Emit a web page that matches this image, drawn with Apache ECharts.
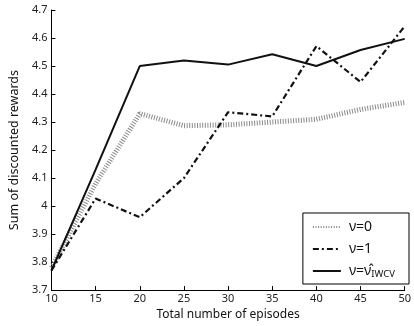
<!DOCTYPE html>
<html><head><meta charset="utf-8">
<script src="https://cdn.jsdelivr.net/npm/echarts@6/dist/echarts.min.js"></script>
<style>html,body{margin:0;padding:0;background:#fff}#c{width:414px;height:326px}</style>
</head><body><div id="c"></div>
<script>
const episodes = [10, 15, 20, 25, 30, 35, 40, 45, 50];
const nu0 = [3.78, 4.08, 4.33, 4.287, 4.29, 4.30, 4.31, 4.345, 4.37];
const nu1 = [3.77, 4.027, 3.96, 4.10, 4.335, 4.32, 4.571, 4.443, 4.642];
const nuIWCV = [3.77, 4.13, 4.50, 4.52, 4.505, 4.542, 4.50, 4.557, 4.597];
const seriesNames = ['ν=0', 'ν=1', 'ν=ν̂IWCV'];
const xTicks = {min: 10, max: 50, interval: 5};
const yTicks = {min: 3.7, max: 4.7, interval: 0.1};

const pairs = a => episodes.map((x, i) => [x, a[i]]);
const font = 'Noto Sans';
const chart = echarts.init(document.getElementById('c'));
chart.setOption({
  animation: false,
  textStyle: {fontFamily: font},
  grid: {left: 49, right: 4, top: 10, bottom: 31},
  xAxis: {
    type: 'value', min: xTicks.min, max: xTicks.max, interval: xTicks.interval,
    name: 'Total number of episodes', nameLocation: 'middle', nameGap: 16,
    nameTextStyle: {fontSize: 12, color: '#111', fontFamily: font},
    axisLine: {lineStyle: {color: '#000', width: 1}},
    axisTick: {inside: true, length: 4, lineStyle: {color: '#000'}},
    axisLabel: {fontSize: 11, color: '#222', margin: 3, fontFamily: font},
    splitLine: {show: false}
  },
  yAxis: {
    type: 'value', min: yTicks.min, max: yTicks.max, interval: yTicks.interval,
    name: 'Sum of discounted rewards', nameLocation: 'middle', nameGap: 29,
    nameTextStyle: {fontSize: 12.5, color: '#111', fontFamily: font},
    axisLine: {show: true, lineStyle: {color: '#000', width: 1}},
    axisTick: {show: true, inside: true, length: 4, lineStyle: {color: '#000'}},
    axisLabel: {fontSize: 11, color: '#222', margin: 4, fontFamily: font,
      formatter: v => String(parseFloat(v.toFixed(1)))},
    splitLine: {show: false}
  },
  legend: {
    right: 5, top: 213, orient: 'vertical', itemWidth: 28, itemHeight: 13, itemGap: 8,
    padding: [7, 14, 5, 9], borderColor: '#000', borderWidth: 1, borderRadius: 0,
    backgroundColor: '#fff', itemStyle: {opacity: 0},
    textStyle: {fontSize: 14, color: '#111', fontFamily: font, padding: [0, 0, 0, 3],
      rich: {sub: {fontSize: 9.5, color: '#111', verticalAlign: 'bottom', padding: [6, 0, 0, 0]},
             n: {fontSize: 14, color: '#111'}}},
    formatter: name => name === seriesNames[2] ? '{n|ν=ν̂}{sub|IWCV}' : name,
    data: seriesNames
  },
  series: [
    {name: seriesNames[0], type: 'line', data: pairs(nu0), symbol: 'none', z: 2,
      lineStyle: {color: '#8a8a8a', width: 5, type: [1, 1.6]}, itemStyle: {color: '#8a8a8a'}},
    {name: seriesNames[1], type: 'line', data: pairs(nu1), symbol: 'none', z: 3,
      lineStyle: {color: '#111', width: 2.2, type: [6, 3, 2, 3]}, itemStyle: {color: '#111'}},
    {name: seriesNames[2], type: 'line', data: pairs(nuIWCV), symbol: 'none', z: 4,
      lineStyle: {color: '#111', width: 2}, itemStyle: {color: '#111'}}
  ]
});
</script></body></html>
